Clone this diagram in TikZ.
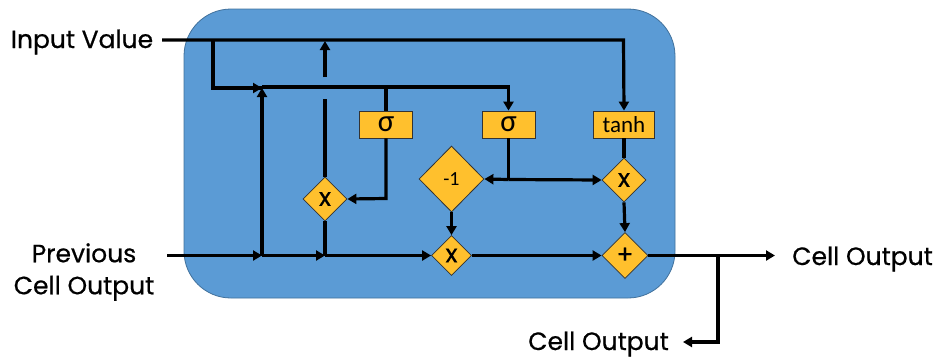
\documentclass[tikz,border=0pt]{standalone}
\usepackage{fontspec}
\setmainfont{Poppins}
\newfontfamily\boxfont{Carlito}
\newfontfamily\labelfont[FakeBold=0.6]{Poppins}
\usetikzlibrary{arrows.meta,shapes.geometric}
\definecolor{cellblue}{HTML}{5B9BD5}
\definecolor{gateyellow}{HTML}{FFC02D}
\definecolor{celledge}{HTML}{41719C}
\begin{document}
\begin{tikzpicture}[x=1pt,y=-1pt]
        % Styles
        \tikzstyle{cell}=[draw=celledge,fill=cellblue,line width=0.8pt,rounded corners=47pt]
        \tikzstyle{wire}=[line width=3.2pt,line join=miter]
        \tikzstyle{arrow}=[wire,-{Triangle[length=9pt,width=10pt]}]
        \tikzstyle{layer}=[draw=black!80,fill=gateyellow,line width=0.8pt,minimum width=53pt,minimum height=27pt,inner sep=0pt,font=\boxfont\fontsize{31}{31}\selectfont]
        \tikzstyle{gate}=[diamond,draw=black!80,fill=gateyellow,line width=0.8pt,inner sep=0pt,font=\labelfont\fontsize{25}{25}\selectfont]
        \tikzstyle{label}=[inner sep=0pt,font=\labelfont\fontsize{25}{32}\selectfont,align=center]
        %The graphic
        \useasboundingbox (0,0) rectangle (937,357);
        \draw[cell] (184,9) rectangle (675,298);
        %layers
        \node[layer] (sigmaa) at (386,124.5) {σ};
        \node[layer] (sigmab) at (508.5,124.5) {σ};
        \node[layer,minimum width=61pt,font=\boxfont\fontsize{23}{23}\selectfont] (tanh) at (624,124.5) {tanh};
        %gates
        \node[gate,minimum width=44pt,minimum height=44pt] (keep) at (325,199) {x};
        \node[gate,minimum width=65pt,minimum height=66pt,font=\boxfont\fontsize{20}{20}\selectfont] (invert) at (451.5,179) {-1};
        \node[gate,minimum width=44pt,minimum height=44pt] (scale) at (624,180) {x};
        \node[gate,minimum width=40pt,minimum height=40pt] (forget) at (451.5,255.5) {x};
        \node[gate,minimum width=46pt,minimum height=46pt] (add) at (625,255.5) {+};
        %labels
        \node[label] (input) at (82,42) {Input Value};
        \node[label] (previous) at (84,272) {Previous\\Cell Output};
        \node[label] (outa) at (862.5,259) {Cell Output};
        \node[label] (outb) at (598.5,344) {Cell Output};
        %junctions
        \coordinate (instart) at (162,40);
        \coordinate (incorner) at (623.5,40);
        \coordinate (inbranch) at (213,40);
        \coordinate (midcorner) at (213,88);
        \coordinate (midjoin) at (262,88);
        \coordinate (midjoint) at (386,87);
        \coordinate (midend) at (508.5,87);
        \coordinate (prevstart) at (167,255.5);
        \coordinate (prevjoin) at (262,255.5);
        \coordinate (keepjoin) at (325,255.5);
        \coordinate (gapbottom) at (325,99);
        \coordinate (gaptop) at (325,77);
        \coordinate (inkeep) at (325,41);
        \coordinate (keepcorner) at (386,198.5);
        \coordinate (sigmajoin) at (508.5,179.5);
        \coordinate (outstart) at (775,255.5);
        \coordinate (outjoin) at (718,255.5);
        \coordinate (outcorner) at (718,342);
        \coordinate (outend) at (683,342);
        %top wires
        \draw[arrow] (instart) -- (incorner) -- (tanh.north);
        \draw[wire] (inbranch) -- (midcorner) -- (midjoin);
        \draw[arrow] (midcorner) -- (midjoin);
        \draw[arrow] (midjoin |- midend) -- (midend) -- (sigmab.north);
        \draw[wire] (midjoint) -- (sigmaa.north);
        %previous output
        \draw[arrow] (prevstart) -- (prevjoin);
        \draw[arrow] (prevjoin) -- (keepjoin);
        \draw[arrow] (keepjoin) -- (forget.west);
        \draw[arrow] (prevjoin) -- (midjoin);
        \draw[wire] (keep.south) -- (keepjoin);
        \draw[wire] (keep.north) -- (gapbottom);
        \draw[arrow] (gaptop) -- (inkeep);
        %gates
        \draw[arrow] (sigmaa.south) -- (keepcorner) -- (keep.east);
        \draw[wire] (sigmab.south) -- (sigmajoin);
        \draw[arrow] (sigmajoin) -- (invert.east);
        \draw[arrow] (sigmajoin) -- (scale.west);
        \draw[wire] (tanh.south) -- (scale.north);
        \draw[arrow] (invert.south) -- (forget.north);
        \draw[arrow] (scale.south) -- (add.north);
        \draw[arrow] (forget.east) -- (add.west);
        %outputs
        \draw[arrow] (add.east) -- (outstart);
        \draw[arrow] (outjoin) -- (outcorner) -- (outend);
\end{tikzpicture}
\end{document}
